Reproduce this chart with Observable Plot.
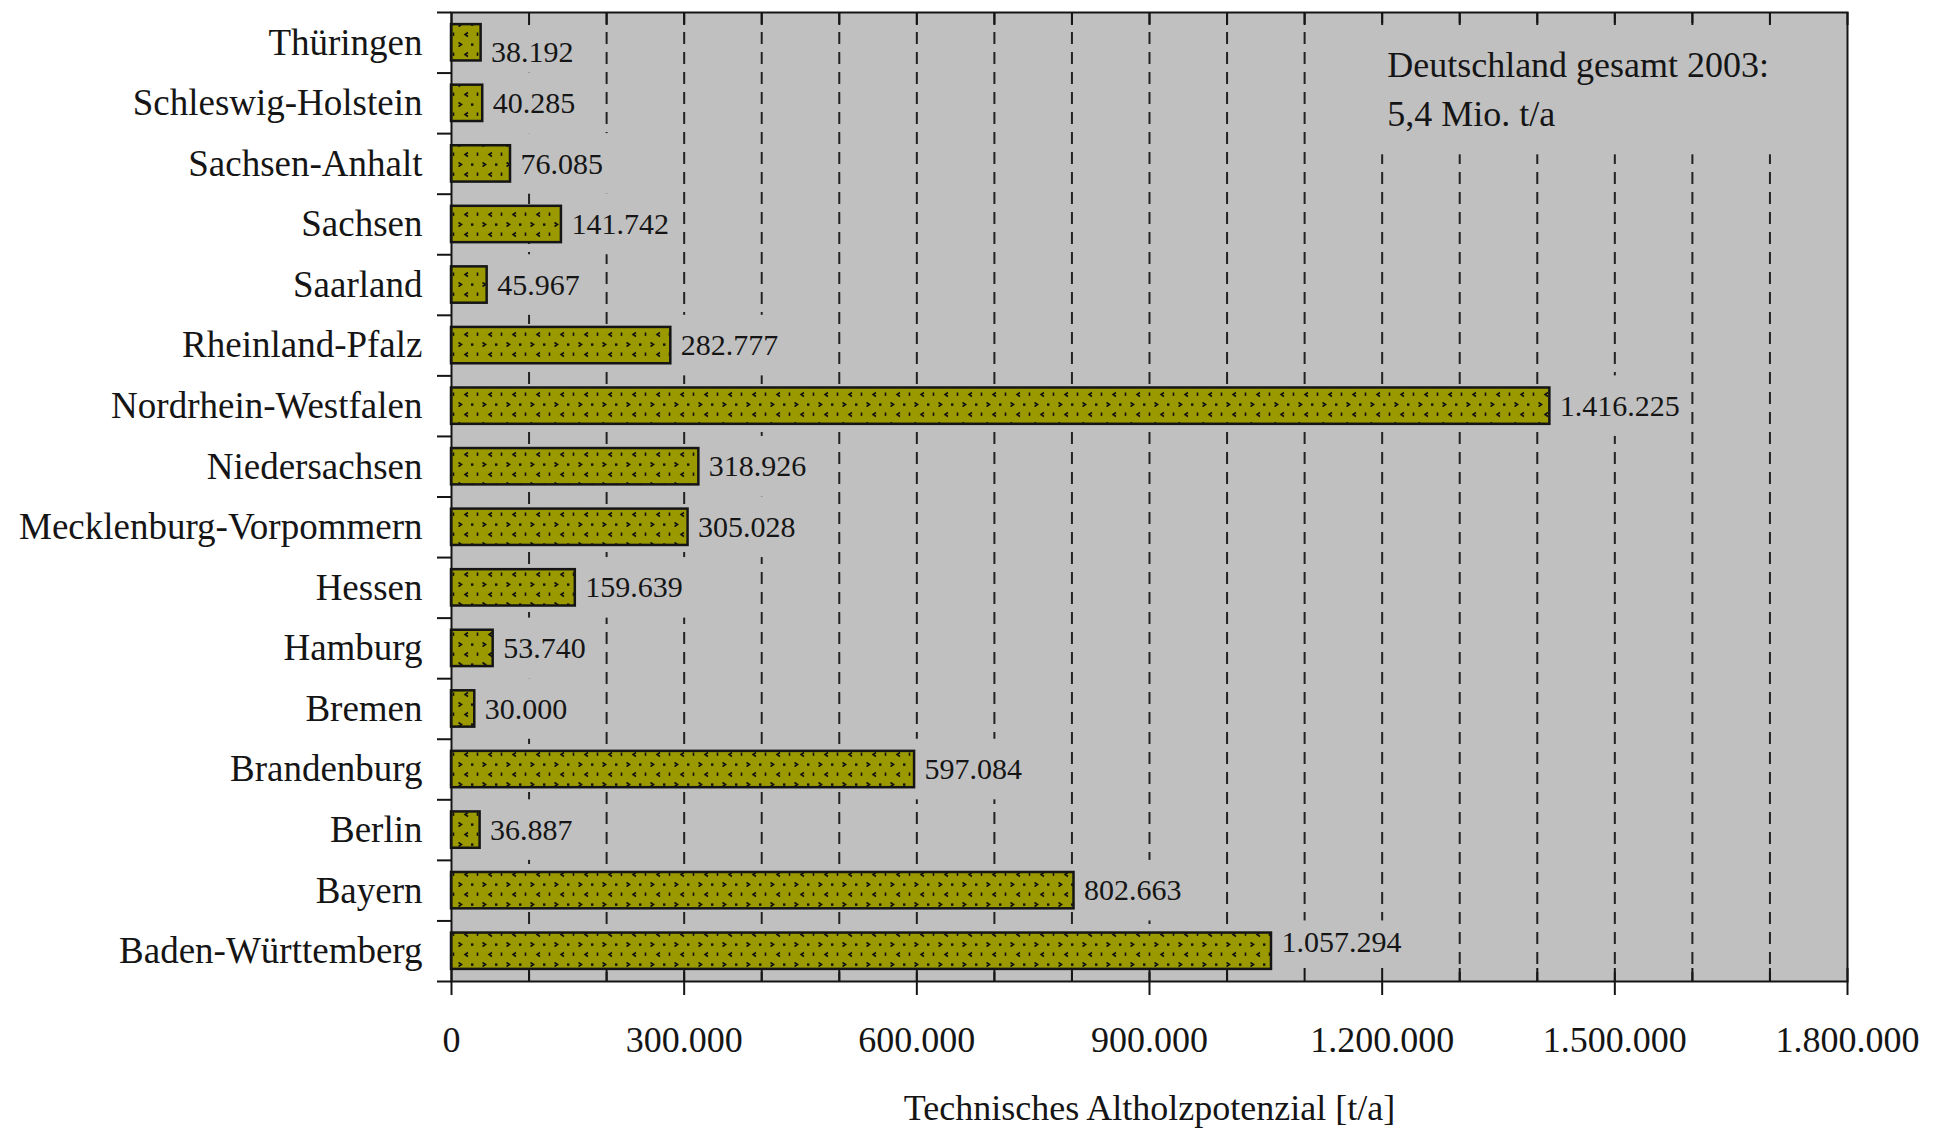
<!DOCTYPE html>
<html><head><meta charset="utf-8">
<script src="https://cdn.jsdelivr.net/npm/d3@7"></script>
<script src="https://cdn.jsdelivr.net/npm/@observablehq/plot@0.6"></script>
<style>body{margin:0;background:#fff} #chart svg{display:block}</style>
</head><body>
<svg width="0" height="0" style="position:absolute">
  <defs>
    <pattern id="olivePattern" patternUnits="userSpaceOnUse" width="24" height="20">
      <rect width="24" height="20" fill="#9b9900"/>
      <path d="M2.5,2.5 l3,2 l-3,2" fill="none" stroke="#111" stroke-width="1.6"/>
      <rect x="15" y="3.4" width="2.4" height="2.4" fill="#111"/>
      <path d="M12,12.5 l-3,2 l3,2" fill="none" stroke="#111" stroke-width="1.6"/>
      <path d="M21.5,12.5 v3.4" fill="none" stroke="#111" stroke-width="1.6"/>
    </pattern>
  </defs>
</svg>
<div id="chart"></div>
<script>
// ---- data ----
const states = ["Thüringen","Schleswig-Holstein","Sachsen-Anhalt","Sachsen","Saarland","Rheinland-Pfalz","Nordrhein-Westfalen","Niedersachsen","Mecklenburg-Vorpommern","Hessen","Hamburg","Bremen","Brandenburg","Berlin","Bayern","Baden-Württemberg"];
const values = [38192,40285,76085,141742,45967,282777,1416225,318926,305028,159639,53740,30000,597084,36887,802663,1057294];
const xTicks = [0,300000,600000,900000,1200000,1500000,1800000];
const minorTicks = [0,100000,200000,300000,400000,500000,600000,700000,800000,900000,1000000,1100000,1200000,1300000,1400000,1500000,1600000,1700000,1800000];
const gridTicks = [100000,200000,300000,400000,500000,600000,700000,800000,900000,1000000,1100000,1200000,1300000,1400000,1500000,1600000,1700000];
const annotationLines = ["Deutschland gesamt 2003:","5,4 Mio. t/a"];
const annotationX = 1200000;
const annotationBox = [1160000, 1780000];
const axisTitle = "Technisches Altholzpotenzial [t/a]";
const xMax = 1800000;

// ---- layout ----
const W = 1945, H = 1129, mL = 451, mR = 98, mT = 12, mB = 148;
const plotW = W - mL - mR, plotH = H - mT - mB;
const pInner = 0.4, pOuter = 0.2;
const step = plotH / (states.length - pInner + 2 * pOuter);
const unitsPerPx = xMax / plotW;
const serif = '"Liberation Serif", "Times New Roman", serif';
const bigFont = 36, catFont = 37, valueFont = 30, labelDx = 10;
const ink = "#151515", bg = "#c0c0c0";
const labelShift = {"Thüringen": 10, "Baden-Württemberg": -9};

const de = d3.formatLocale({decimal: ",", thousands: ".", grouping: [3], currency: ["", "€"]});
const fmt = de.format(",d");
const ctx = document.createElement("canvas").getContext("2d");
ctx.font = `${valueFont}px ${serif}`;

const rows = states.map((s, i) => ({state: s, value: values[i], label: fmt(values[i])}));
rows.forEach(r => { r.boxEnd = r.value + (labelDx + ctx.measureText(r.label).width + 6) * unitsPerPx; });
const boxRow = [{state: states[0], x1: annotationBox[0], x2: annotationBox[1]}];
const annoRow = [{state: states[0], x: annotationX, text: annotationLines.join("\n")}];

const valueText = (filter, dy) => Plot.text(rows.filter(filter), {
  y: "state", x: "value", text: "label", dx: labelDx, dy, textAnchor: "start",
  fontSize: valueFont, fill: ink
});

const chart = Plot.plot({
  width: W, height: H,
  marginLeft: mL, marginRight: mR, marginTop: mT, marginBottom: mB,
  style: {fontFamily: serif, fontSize: bigFont + "px", background: "white", color: ink},
  x: {domain: [0, xMax], axis: null},
  y: {domain: states, paddingInner: pInner, paddingOuter: pOuter, axis: null, round: false},
  marks: [
    Plot.frame({fill: bg}),
    Plot.ruleX(gridTicks, {x: d => d, stroke: "#222", strokeWidth: 2, strokeDasharray: "12,8"}),
    Plot.barX(rows, {y: "state", x1: "value", x2: "boxEnd", fill: bg,
      insetTop: -step * pInner / 2, insetBottom: -step * pInner / 2}),
    Plot.barX(boxRow, {y: "state", x1: "x1", x2: "x2", fill: bg, insetTop: -1, insetBottom: -1.55 * step}),
    Plot.barX(rows, {y: "state", x1: () => 0, x2: "value", fill: "url(#olivePattern)", stroke: ink, strokeWidth: 2.5}),
    valueText(d => !(d.state in labelShift), 0),
    ...Object.entries(labelShift).map(([s, dy]) => valueText(d => d.state === s, dy)),
    Plot.text(annoRow, {x: "x", y: "state", text: "text", dx: 5, dy: -1, textAnchor: "start",
      lineAnchor: "top", lineHeight: 1.36, fontSize: bigFont, fill: ink}),
    // inner minor ticks bottom & top
    Plot.ruleX(minorTicks, {x: d => d, insetTop: plotH - 13, stroke: ink, strokeWidth: 2}),
    Plot.ruleX(minorTicks, {x: d => d, insetBottom: plotH - 13, stroke: ink, strokeWidth: 2}),
    // outer major ticks
    Plot.ruleX(xTicks, {x: d => d, insetTop: plotH, insetBottom: -14, stroke: ink, strokeWidth: 2}),
    Plot.axisX(xTicks, {tickSize: 0, tickPadding: 45, tickFormat: fmt, fontSize: bigFont, label: null, fill: ink}),
    Plot.axisY({tickSize: 0, tickPadding: 29, fontSize: catFont, label: null, fill: ink}),
    // category boundary ticks
    Plot.ruleY(states, {y: d => d, dy: -step / 2, insetLeft: -14, insetRight: plotW, stroke: ink, strokeWidth: 2}),
    Plot.ruleY([states[states.length - 1]], {y: d => d, dy: step / 2, insetLeft: -14, insetRight: plotW, stroke: ink, strokeWidth: 2}),
    Plot.frame({stroke: ink, strokeWidth: 2}),
    Plot.text([axisTitle], {frameAnchor: "bottom", dy: 127, text: d => d, fontSize: bigFont, fill: ink, lineAnchor: "middle"})
  ]
});
document.getElementById("chart").appendChild(chart);
</script>
</body></html>
